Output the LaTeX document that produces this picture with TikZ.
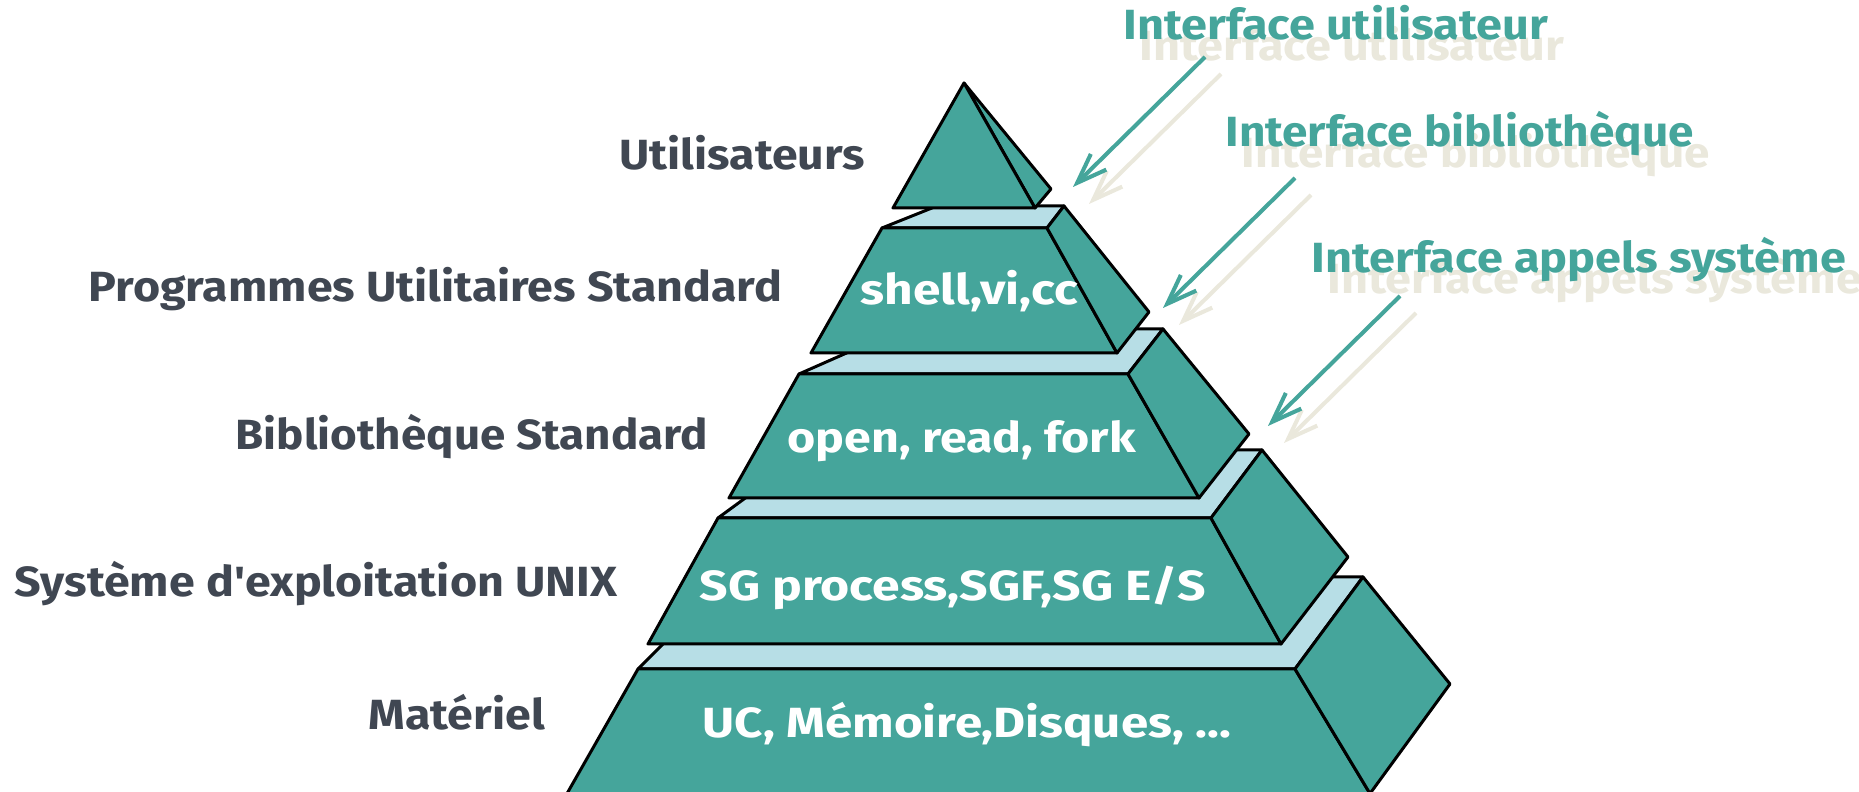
\documentclass[tikz,border=0pt]{standalone}
\usepackage{fontspec}
\setmainfont{Fira Sans}
\usepackage{graphicx}
\usetikzlibrary{arrows.meta}

\definecolor{pyrteal}{RGB}{69,165,155}
\definecolor{pyrblue}{RGB}{183,222,230}
\definecolor{lblgrey}{RGB}{64,71,82}
\definecolor{shadowbeige}{RGB}{234,232,220}

% stretch or squeeze a text to a given width
\newcommand{\fitw}[2]{\resizebox{#1}{\height}{#2}}

\begin{document}
\begin{tikzpicture}[x=0.01cm, y=-0.01cm]
	\tikzstyle{face}       = [fill=pyrteal, draw=black, line width=0.85pt, line join=round]
	\tikzstyle{strip}      = [fill=pyrblue, draw=black, line width=0.85pt, line join=round]
	\tikzstyle{lbl}        = [anchor=base west, inner sep=0pt, text=lblgrey, font=\bfseries\fontsize{12}{14}\selectfont]
	\tikzstyle{inlbl}      = [lbl, text=white]
	\tikzstyle{itf}        = [lbl, text=pyrteal]
	\tikzstyle{itfshadow}  = [lbl, text=shadowbeige]
	\tikzstyle{arr}        = [draw=pyrteal, line width=1.15pt, -{Straight Barb[length=3mm, width=2.2mm]}]
	\tikzstyle{arrshadow}  = [arr, draw=shadowbeige]

	\useasboundingbox (0,0) rectangle (1859,792);
	\clip (0,0) rectangle (1859,792);

	% layers, from the bottom up
	\foreach \tl/\tr/\ty/\bl/\br/\by/\sx/\btx/\bty/\srx/\sry in {
			638/1295/669/567/1370/793.6/730/1363/577/1450/684,
			718/1211/518/648/1281/644/811/1262/450/1348/557,
			799/1128/374/729/1199/498/901/1163/329/1249/434,
			882/1047/228/811/1117/353/937/1064/206/1149/312}
	{
		\draw[strip] (\tl,\ty) -- (\sx,\bty) -- (\btx,\bty) -- (\tr,\ty) -- cycle;
		\draw[face] (\tl,\ty) -- (\tr,\ty) -- (\br,\by) -- (\bl,\by) -- cycle;
		\draw[face] (\tr,\ty) -- (\btx,\bty) -- (\srx,\sry) -- (\br,\by) -- cycle;
	}

	% top
	\draw[face] (964,83) -- (1051,189) -- (1035,208) -- cycle;
	\draw[face] (964,83) -- (893,208) -- (1035,208) -- cycle;

	% texts inside the layers
	\node[inlbl] (shell) at (860,305) {\fitw{2.17cm}{shell,vi,cc}};
	\node[inlbl] (open)  at (787,453) {\fitw{3.48cm}{open, read, fork}};
	\node[inlbl] (sg)    at (699,601) {\fitw{5.06cm}{SG process,SGF,SG E/S}};
	\node[inlbl] (uc)    at (702,738) {\fitw{5.28cm}{UC, Mémoire,Disques, ...}};

	% names on the left
	\node[lbl] (users)  at (619,170) {\fitw{2.45cm}{Utilisateurs}};
	\node[lbl] (progs)  at (88,302)  {\fitw{6.93cm}{Programmes Utilitaires Standard}};
	\node[lbl] (biblio) at (235,450) {\fitw{4.72cm}{Bibliothèque Standard}};
	\node[lbl] (unix)   at (14,597)  {\fitw{6.02cm}{Système d\textquotesingle exploitation UNIX}};
	\node[lbl] (mat)    at (368,730) {\fitw{1.76cm}{Matériel}};

	% interfaces
	\coordinate (tip-u) at (1073,187);
	\coordinate (tip-b) at (1163,308);
	\coordinate (tip-a) at (1268,426);

	\node[itfshadow] (iu-s) at (1139,61)  {\fitw{4.24cm}{Interface utilisateur}};
	\node[itfshadow] (ib-s) at (1241,168) {\fitw{4.68cm}{Interface bibliothèque}};
	\node[itfshadow] (ia-s) at (1327,294) {\fitw{5.34cm}{Interface appels système}};

	\draw[arrshadow] ([shift={(82,13)}]iu-s.base west) -- ([shift={(16,17)}]tip-u);
	\draw[arrshadow] ([shift={(70,27)}]ib-s.base west) -- ([shift={(16,17)}]tip-b);
	\draw[arrshadow] ([shift={(89,19)}]ia-s.base west) -- ([shift={(16,17)}]tip-a);

	\node[itf] (iu) at (1123,40)  {\fitw{4.24cm}{Interface utilisateur}};
	\node[itf] (ib) at (1225,147) {\fitw{4.68cm}{Interface bibliothèque}};
	\node[itf] (ia) at (1311,273) {\fitw{5.34cm}{Interface appels système}};

	\draw[arr] ([shift={(82,17)}]iu.base west) -- (tip-u);
	\draw[arr] ([shift={(70,31)}]ib.base west) -- (tip-b);
	\draw[arr] ([shift={(89,23)}]ia.base west) -- (tip-a);
\end{tikzpicture}
\end{document}
